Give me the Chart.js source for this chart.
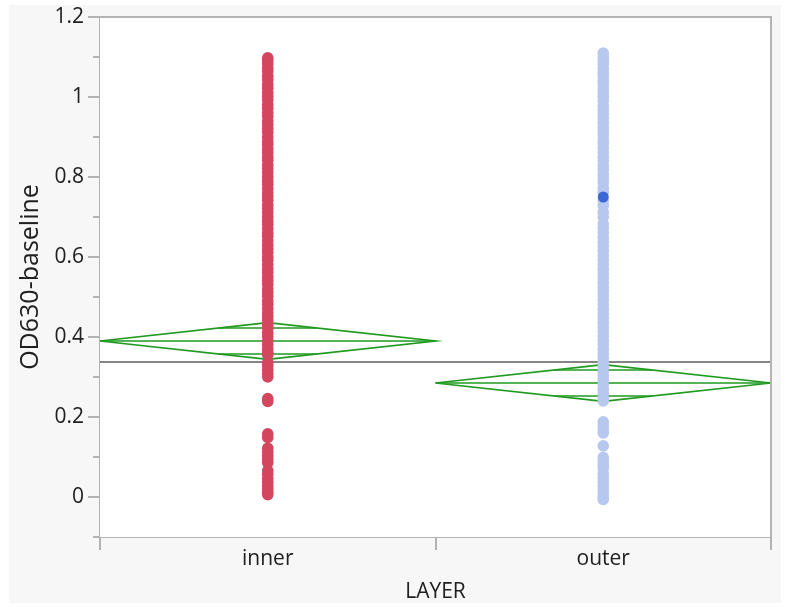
<!DOCTYPE html>
<html>
<head>
<meta charset="utf-8">
<script src="https://cdn.jsdelivr.net/npm/chart.js@4"></script>
<style>
    html, body { margin: 0; padding: 0; background: #ffffff; }
    #wrap { position: relative; width: 786px; height: 607px; }
    #panel { position: absolute; left: 9px; top: 5px; width: 772px; height: 598px; background: #f7f7f7; }
    #oneway { position: absolute; left: 0; top: 0; }
</style>
</head>
<body>
<div id="wrap">
    <div id="panel"></div>
    <canvas id="oneway" width="786" height="607"></canvas>
</div>
<script>
// =========================
// DATOS
// =========================

const categories = ["inner", "outer"];

const innerValues = [
    1.098, 1.091, 1.083, 1.072, 1.064, 1.052, 1.043, 1.031, 1.022, 1.011,
    1.002, 0.993, 0.981, 0.972, 0.961, 0.952, 0.940, 0.931, 0.921, 0.912,
    0.900, 0.889, 0.881, 0.870, 0.861, 0.850, 0.842, 0.830, 0.821, 0.811,
    0.800, 0.790, 0.782, 0.771, 0.760, 0.751, 0.742, 0.730, 0.721, 0.711,
    0.700, 0.690, 0.682, 0.671, 0.660, 0.652, 0.641, 0.630, 0.620, 0.611,
    0.600, 0.592, 0.581, 0.570, 0.561, 0.550, 0.541, 0.532, 0.520, 0.511,
    0.502, 0.490, 0.482, 0.471, 0.460, 0.451, 0.442, 0.430, 0.422, 0.411,
    0.402, 0.391, 0.381, 0.370, 0.362, 0.355,
    0.336, 0.328, 0.318, 0.309, 0.300,
    0.246, 0.239,
    0.158, 0.149, 0.122, 0.113, 0.104, 0.095, 0.086,
    0.066, 0.057, 0.046, 0.037, 0.028, 0.020, 0.012, 0.006
];

const outerValues = [
    1.110, 1.100, 1.091, 1.082, 1.071, 1.060, 1.051, 1.040, 1.031, 1.020,
    1.010, 1.000, 0.990, 0.978, 0.968, 0.958, 0.947, 0.936, 0.925, 0.915,
    0.905, 0.894, 0.884, 0.872, 0.861, 0.850, 0.840, 0.828, 0.818, 0.806,
    0.795, 0.785, 0.772, 0.762, 0.740, 0.729, 0.712, 0.700, 0.683, 0.672,
    0.660, 0.648, 0.637, 0.626, 0.615, 0.604, 0.592, 0.581, 0.570, 0.559,
    0.548, 0.536, 0.525, 0.514, 0.503, 0.492, 0.480, 0.469, 0.458, 0.447,
    0.436, 0.425, 0.414, 0.402, 0.391, 0.380, 0.369, 0.358, 0.347, 0.336,
    0.325, 0.314, 0.303, 0.292, 0.281, 0.270, 0.259, 0.248, 0.240,
    0.188, 0.178, 0.168, 0.160, 0.128,
    0.099, 0.090, 0.080, 0.071, 0.058, 0.048, 0.038, 0.028, 0.018, 0.008,
    0.000, -0.006
];

// fila seleccionada (outer)
const selectedOuter = [0.750];

// medias por grupo y semiancho del intervalo de confianza
const groupMeans = [0.390, 0.285];
const groupCI = [0.046, 0.046];
const grandMean = 0.3375;

const yMin = -0.1;
const yMax = 1.2;

const FONT = "'Open Sans', 'Noto Sans', sans-serif";
const TEXT = "#202020";
const AXIS_GRAY = "#b3b3b3";
const GREEN = "#1f9a1f";


// =========================
// DATASETS
// =========================

const pointsOf = (values, i) => values.map(v => ({ x: i + 0.5, y: v }));

const datasets = [];

datasets.push({
    label: "selected",
    data: pointsOf(selectedOuter, 1),
    backgroundColor: "#3b68d6",
    pointRadius: 5.5,
    pointBorderWidth: 0,
    order: 0
});

datasets.push({
    label: categories[0],
    data: pointsOf(innerValues, 0),
    backgroundColor: "#d4465e",
    pointRadius: 5.8,
    pointBorderWidth: 0,
    order: 1
});

datasets.push({
    label: categories[1],
    data: pointsOf(outerValues, 1),
    backgroundColor: "#b6c8ef",
    pointRadius: 5.8,
    pointBorderWidth: 0,
    order: 1
});

const lineSet = (label, data, color, width, order) => ({
    label: label,
    data: data,
    showLine: true,
    borderColor: color,
    borderWidth: width,
    pointRadius: 0,
    fill: false,
    order: order
});

// diamantes de medias + marcas de solapamiento
groupMeans.forEach((m, i) => {
    const ci = groupCI[i];

    datasets.push(lineSet("diamond " + categories[i], [
        { x: i, y: m },
        { x: i + 0.5, y: m + ci },
        { x: i + 1, y: m },
        { x: i + 0.5, y: m - ci },
        { x: i, y: m }
    ], GREEN, 1.7, 2));

    datasets.push(lineSet("mean " + categories[i], [
        { x: i, y: m },
        { x: i + 1, y: m }
    ], GREEN, 1.7, 2));

    const h = ci / Math.SQRT2;
    const half = 0.5 * (1 - h / ci);

    [m + h, m - h].forEach(yv => {
        datasets.push(lineSet("overlap " + categories[i], [
            { x: i + 0.5 - half, y: yv },
            { x: i + 0.5 + half, y: yv }
        ], GREEN, 1.7, 2));
    });
});

// media global
datasets.push(lineSet("grand mean", [
    { x: 0, y: grandMean },
    { x: 2, y: grandMean }
], "#858585", 2, 3));


// =========================
// PLUGIN DEL MARCO
// =========================

const framePlugin = {
    id: "frame",

    beforeDatasetsDraw(chart) {
        const { ctx, chartArea: a } = chart;
        ctx.save();
        ctx.fillStyle = "#ffffff";
        ctx.fillRect(a.left, a.top, a.right - a.left, a.bottom - a.top);
        ctx.restore();
    },

    afterDraw(chart) {
        const { ctx, chartArea: a } = chart;
        const y = chart.scales.y;

        ctx.save();
        ctx.strokeStyle = AXIS_GRAY;
        ctx.lineWidth = 2;

        // borde superior y derecho
        ctx.beginPath();
        ctx.moveTo(a.left, a.top);
        ctx.lineTo(a.right, a.top);
        ctx.lineTo(a.right, a.bottom);
        ctx.stroke();

        // ticks menores del eje Y
        y.ticks.forEach(t => {
            if (Math.round(t.value * 10) % 2 !== 0) {
                const py = Math.round(y.getPixelForValue(t.value));
                ctx.beginPath();
                ctx.moveTo(a.left - 7, py);
                ctx.lineTo(a.left, py);
                ctx.stroke();
            }
        });

        ctx.restore();
    }
};


// =========================
// GRÁFICO
// =========================

new Chart(document.getElementById("oneway"), {

    type: "scatter",

    data: { datasets: datasets },

    plugins: [framePlugin],

    options: {

        responsive: false,
        animation: false,

        layout: {
            padding: { top: 17, right: 15, left: 0, bottom: 0 }
        },

        plugins: {
            legend: { display: false },
            tooltip: { enabled: false }
        },

        scales: {

            x: {
                type: "linear",
                min: 0,
                max: 2,

                afterBuildTicks: scale => {
                    scale.ticks = [0, 0.5, 1, 1.5, 2].map(v => ({ value: v }));
                },

                afterFit: scale => {
                    scale.height = 70;
                },

                ticks: {
                    autoSkip: false,
                    maxRotation: 0,
                    padding: -4,
                    color: TEXT,
                    font: { family: FONT, size: 21 },
                    callback: value => (value % 1 === 0.5) ? categories[Math.floor(value)] : ""
                },

                grid: {
                    drawOnChartArea: false,
                    tickLength: 13,
                    lineWidth: 2,
                    tickColor: c => (c.tick && c.tick.value % 1 === 0) ? AXIS_GRAY : "rgba(0,0,0,0)"
                },

                border: {
                    color: AXIS_GRAY,
                    width: 2
                },

                title: {
                    display: true,
                    text: "LAYER",
                    color: TEXT,
                    font: { family: FONT, size: 21 },
                    padding: { top: 0, bottom: 2 }
                }
            },

            y: {
                min: yMin,
                max: yMax,

                afterFit: scale => {
                    scale.width = 100;
                },

                ticks: {
                    stepSize: 0.1,
                    padding: 4,
                    color: TEXT,
                    font: { family: FONT, size: 21 },
                    callback: value => {
                        const tenths = Math.round(value * 10);
                        return (tenths % 2 === 0 && tenths >= 0) ? String(tenths / 10) : "";
                    }
                },

                grid: {
                    drawOnChartArea: false,
                    tickLength: 12,
                    lineWidth: 2,
                    tickColor: c => (c.tick && Math.round(c.tick.value * 10) % 2 === 0 && c.tick.value > -0.05) ? AXIS_GRAY : "rgba(0,0,0,0)"
                },

                border: {
                    color: AXIS_GRAY,
                    width: 2
                },

                title: {
                    display: true,
                    text: "OD630-baseline",
                    color: TEXT,
                    font: { family: FONT, size: 25 },
                    padding: { top: 16, bottom: 0 }
                }
            }
        }
    }
});
</script>
</body>
</html>
